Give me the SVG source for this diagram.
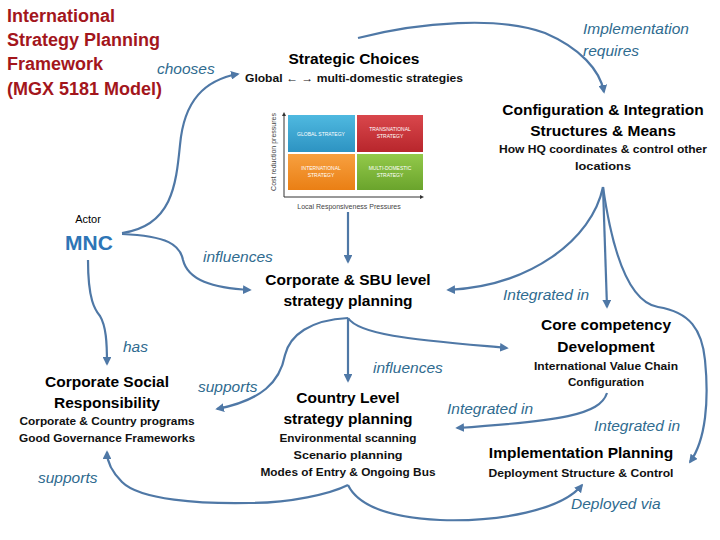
<svg xmlns="http://www.w3.org/2000/svg" width="720" height="540" viewBox="0 0 720 540">
<defs>
<marker id="ah" viewBox="0 0 10 10" refX="8" refY="5" markerWidth="4" markerHeight="4" orient="auto">
<path d="M0,0 L10,5 L0,10 z" fill="#4f78a6"/>
</marker>
<linearGradient id="gb" x1="0" y1="0" x2="0" y2="1"><stop offset="0" stop-color="#4fb9e0"/><stop offset="1" stop-color="#2d93c2"/></linearGradient>
<linearGradient id="gr" x1="0" y1="0" x2="0" y2="1"><stop offset="0" stop-color="#d9474c"/><stop offset="1" stop-color="#b8262c"/></linearGradient>
<linearGradient id="go" x1="0" y1="0" x2="0" y2="1"><stop offset="0" stop-color="#f7a040"/><stop offset="1" stop-color="#ea7f14"/></linearGradient>
<linearGradient id="gg" x1="0" y1="0" x2="0" y2="1"><stop offset="0" stop-color="#93c94a"/><stop offset="1" stop-color="#6aa42c"/></linearGradient>
</defs>
<style>
text{font-family:"Liberation Sans",Arial,sans-serif}
.t{font-size:18px;font-weight:bold;fill:#a3161c}
.h{font-size:15.5px;font-weight:bold;fill:#000;text-anchor:middle}
.s{font-size:11.5px;font-weight:bold;fill:#111;text-anchor:middle}
.l{font-size:15.5px;font-style:italic;fill:#2f6b8f}
.c{fill:none;stroke:#4f78a6;stroke-width:2.2;marker-end:url(#ah)}
.m{font-size:5px;fill:#fff;text-anchor:middle}
</style>
<rect width="720" height="540" fill="#fff"/>
<g id="connectors">
<path class="c" d="M122,233 C172,226 176,185 180,145 C184,100 205,80 238,74"/>
<path class="c" d="M358,38 C420,22 500,16 545,33 C580,48 600,70 604,92"/>
<path class="c" d="M603,187 C592,240 530,286 448,290"/>
<path class="c" d="M603,187 L607,307"/>
<path class="c" d="M603,187 C612,250 628,302 658,307 C690,312 702,330 705,360 C709,400 706,440 690,462"/>
<path class="c" d="M122,234 C168,236 180,245 183,260 C188,280 212,288 250,290"/>
<path class="c" d="M348,212 L348,262"/>
<path class="c" d="M88,260 C88,300 95,310 100,316 C106,326 107,342 107,364"/>
<path class="c" d="M348,318 L348,381"/>
<path class="c" d="M348,318 C310,320 290,335 285,355 C280,382 262,400 217,409"/>
<path class="c" d="M348,318 C360,336 420,340 507,348"/>
<path class="c" d="M607,393 C600,415 560,421 457,428"/>
<path class="c" d="M348,485 C330,494 290,503 250,503 C200,504 140,500 122,482 C111,471 107,462 107,452"/>
<path class="c" d="M348,485 C360,510 400,518 440,520 C500,522 562,510 582,485"/>
</g>
<g id="title">
<text class="t" x="7" y="22">International</text>
<text class="t" x="7" y="46">Strategy Planning</text>
<text class="t" x="7" y="70">Framework</text>
<text class="t" x="7" y="95">(MGX 5181 Model)</text>
</g>
<g id="strategic-choices">
<text class="h" x="354" y="64">Strategic Choices</text>
<text class="s" x="354" y="82" textLength="218" lengthAdjust="spacingAndGlyphs">Global ← → multi-domestic strategies</text>
</g>
<g id="matrix">
<rect x="288" y="115" width="67" height="37" fill="url(#gb)"/>
<rect x="357" y="115" width="66" height="37" fill="url(#gr)"/>
<rect x="288" y="154" width="67" height="36" fill="url(#go)"/>
<rect x="357" y="154" width="66" height="36" fill="url(#gg)"/>
<text class="m" x="321" y="136">GLOBAL STRATEGY</text>
<text class="m" x="390" y="131">TRANSNATIONAL</text>
<text class="m" x="390" y="138">STRATEGY</text>
<text class="m" x="321" y="170" fill="#5a2a00">INTERNATIONAL</text>
<text class="m" x="321" y="177" fill="#5a2a00">STRATEGY</text>
<text class="m" x="390" y="170">MULTI-DOMESTIC</text>
<text class="m" x="390" y="177">STRATEGY</text>
<path d="M284,197 L284,115 M284,197 L421,197" stroke="#333" stroke-width="1" fill="none"/>
<path d="M282,116 L284,112 L286,116 z M420,195 L424,197 L420,199 z" fill="#333"/>
<text x="276" y="152" font-size="7" fill="#444" text-anchor="middle" transform="rotate(-90 276 152)">Cost reduction pressures</text>
<text x="349" y="209" font-size="7" fill="#444" text-anchor="middle">Local Responsiveness Pressures</text>
</g>
<g id="configuration">
<text class="h" x="603" y="115">Configuration &amp; Integration</text>
<text class="h" x="603" y="136">Structures &amp; Means</text>
<text class="s" x="603" y="153" textLength="208" lengthAdjust="spacingAndGlyphs">How HQ coordinates &amp; control other</text>
<text class="s" x="603" y="170" textLength="56" lengthAdjust="spacingAndGlyphs">locations</text>
</g>
<g id="mnc">
<text x="88" y="223" font-size="11" fill="#000" text-anchor="middle">Actor</text>
<text x="89" y="250" font-size="21" font-weight="bold" fill="#2e75b6" text-anchor="middle">MNC</text>
</g>
<g id="corporate-sbu">
<text class="h" x="348" y="285">Corporate &amp; SBU level</text>
<text class="h" x="348" y="306">strategy planning</text>
</g>
<g id="core-competency">
<text class="h" x="606" y="330">Core competency</text>
<text class="h" x="606" y="352">Development</text>
<text class="s" x="606" y="370" textLength="144" lengthAdjust="spacingAndGlyphs">International Value Chain</text>
<text class="s" x="606" y="386" textLength="76" lengthAdjust="spacingAndGlyphs">Configuration</text>
</g>
<g id="csr">
<text class="h" x="107" y="387">Corporate Social</text>
<text class="h" x="107" y="408">Responsibility</text>
<text class="s" x="107" y="425" textLength="175" lengthAdjust="spacingAndGlyphs">Corporate &amp; Country programs</text>
<text class="s" x="107" y="442" textLength="176" lengthAdjust="spacingAndGlyphs">Good Governance Frameworks</text>
</g>
<g id="country-level">
<text class="h" x="348" y="403">Country Level</text>
<text class="h" x="348" y="424">strategy planning</text>
<text class="s" x="348" y="442" textLength="137" lengthAdjust="spacingAndGlyphs">Environmental scanning</text>
<text class="s" x="348" y="459" textLength="109" lengthAdjust="spacingAndGlyphs">Scenario planning</text>
<text class="s" x="348" y="476" textLength="175" lengthAdjust="spacingAndGlyphs">Modes of Entry &amp; Ongoing Bus</text>
</g>
<g id="implementation-planning">
<text class="h" x="581" y="458">Implementation Planning</text>
<text class="s" x="581" y="477" textLength="185" lengthAdjust="spacingAndGlyphs">Deployment Structure &amp; Control</text>
</g>
<g id="labels">
<text class="l" x="157" y="74">chooses</text>
<text class="l" x="583" y="34">Implementation</text>
<text class="l" x="583" y="56">requires</text>
<text class="l" x="203" y="262">influences</text>
<text class="l" x="503" y="300">Integrated in</text>
<text class="l" x="123" y="352">has</text>
<text class="l" x="198" y="392">supports</text>
<text class="l" x="373" y="373">influences</text>
<text class="l" x="447" y="414">Integrated in</text>
<text class="l" x="594" y="431">Integrated in</text>
<text class="l" x="38" y="483">supports</text>
<text class="l" x="571" y="509">Deployed via</text>
</g>
</svg>
